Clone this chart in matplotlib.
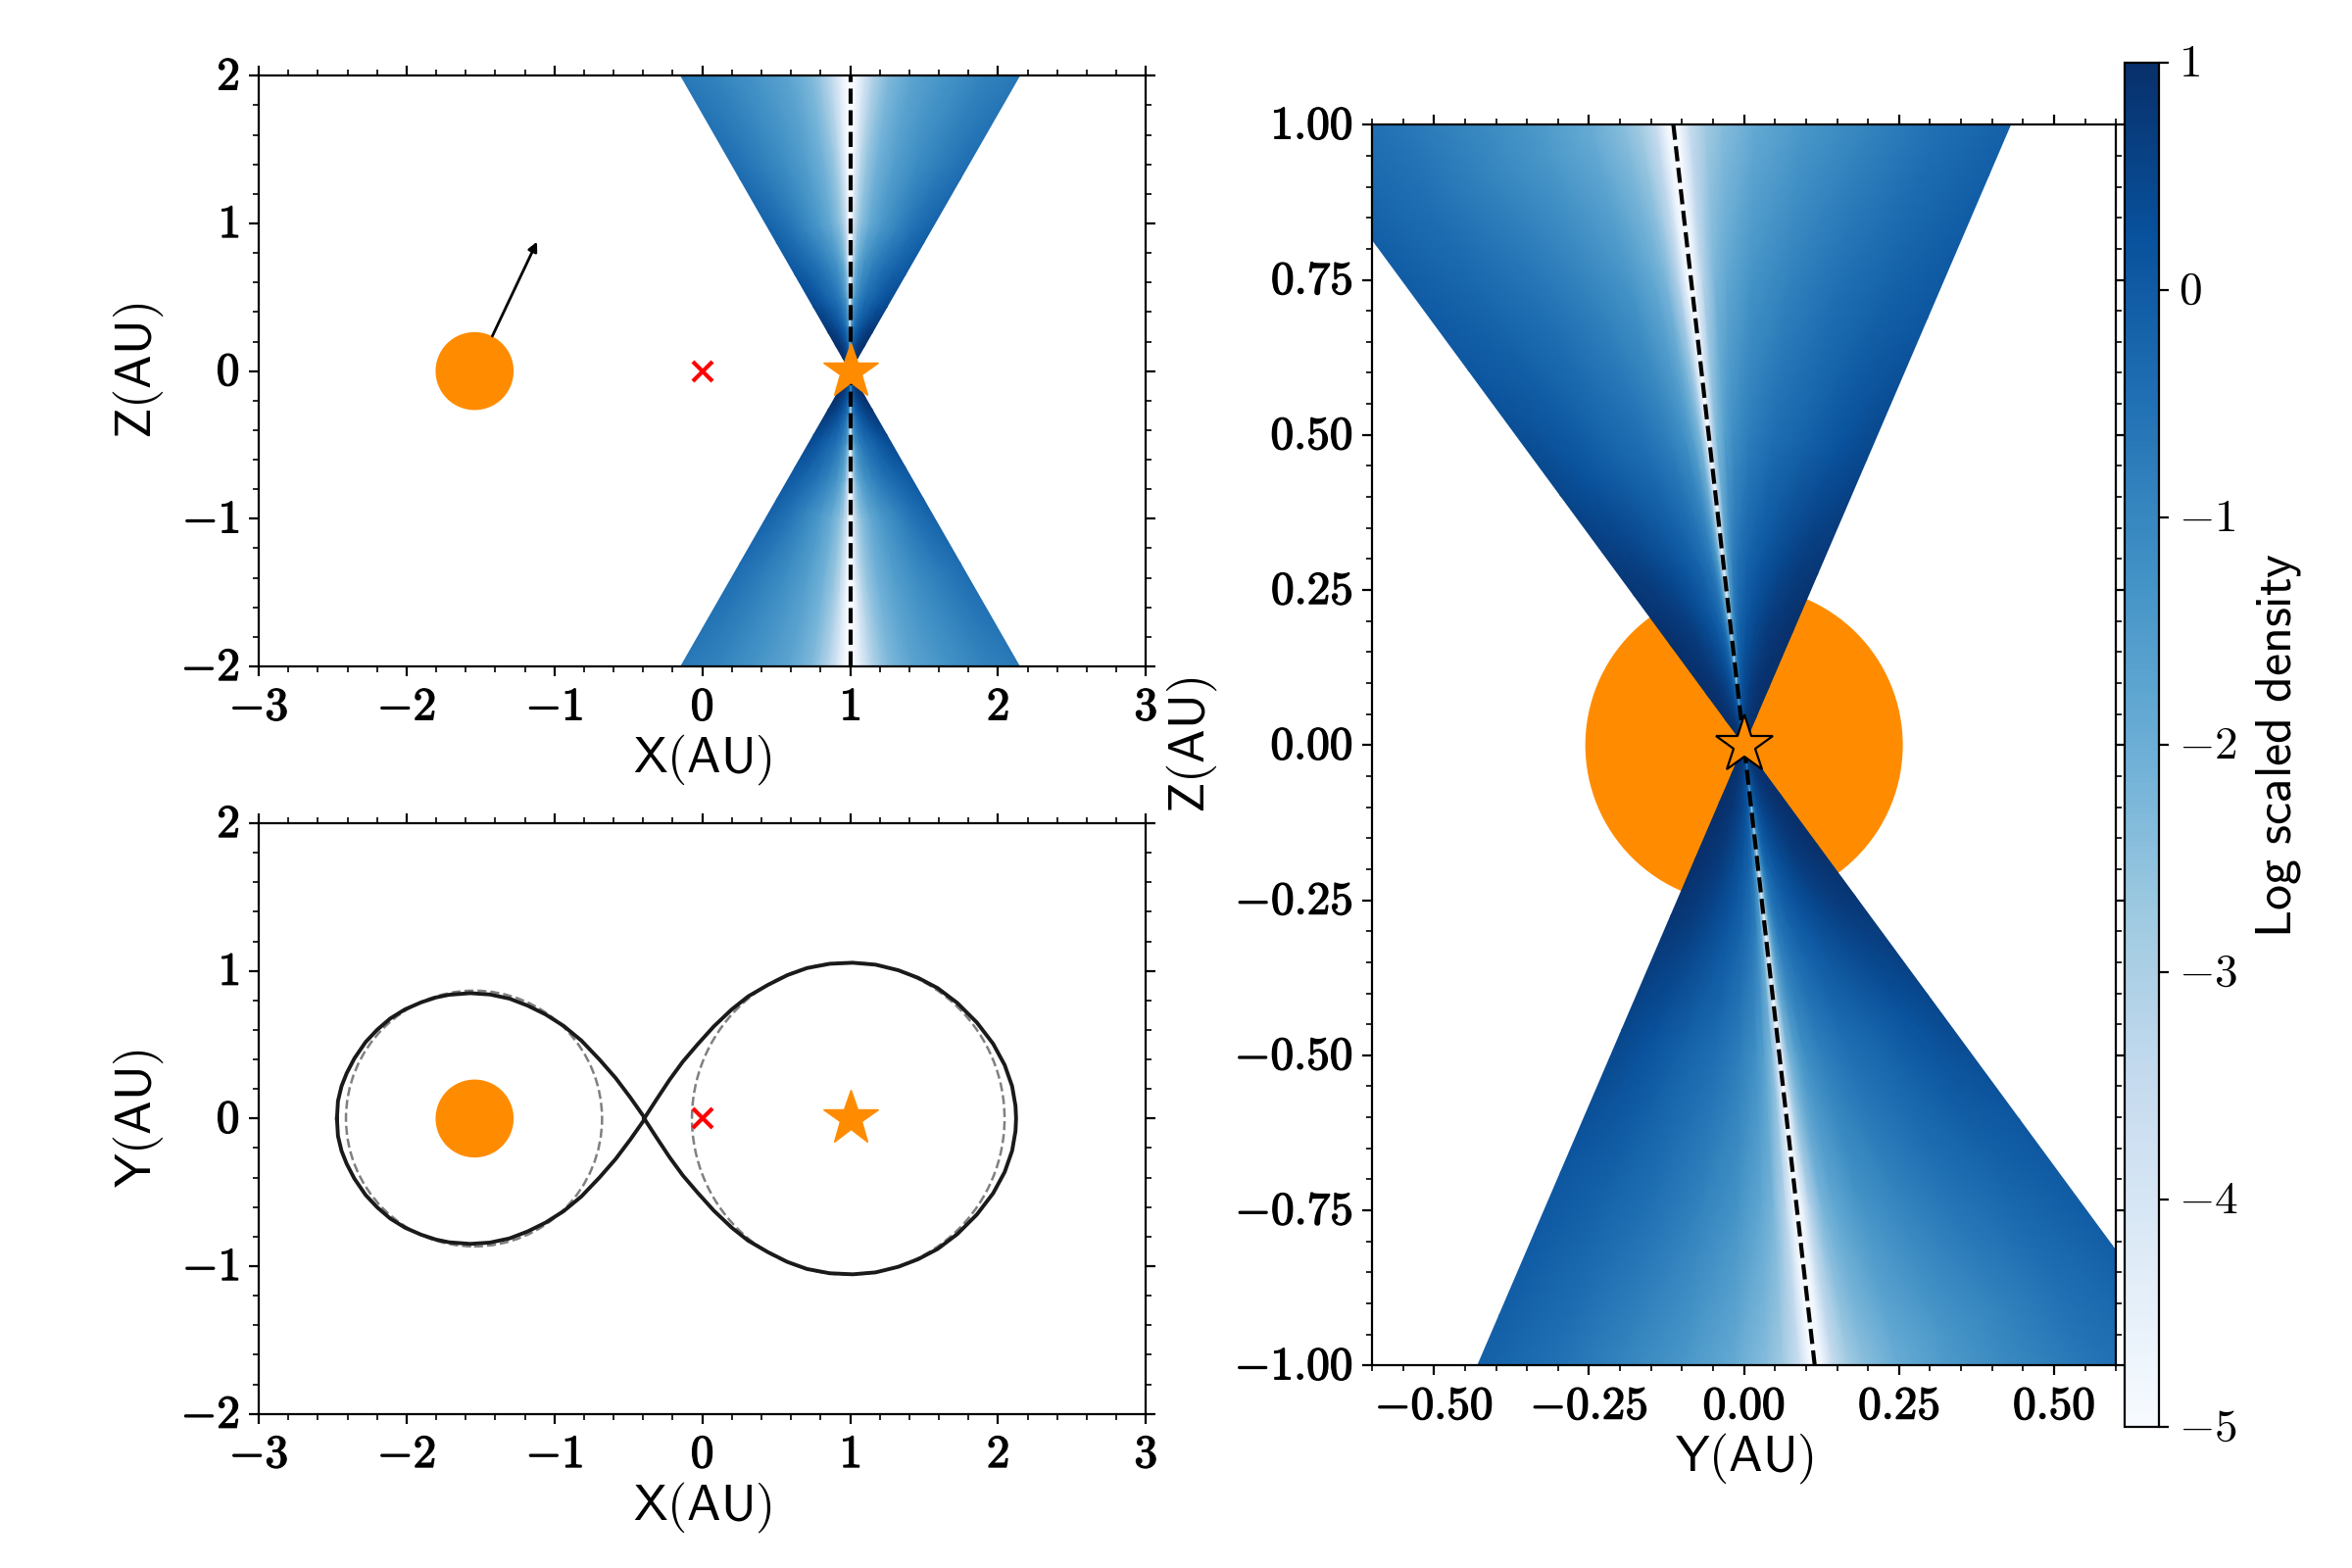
import numpy as np
import matplotlib
matplotlib.use("Agg")
import matplotlib.pyplot as plt
import matplotlib.patheffects as pe
from matplotlib.patches import Circle
from matplotlib.ticker import FuncFormatter, MultipleLocator
from matplotlib.transforms import ScaledTranslation

plt.rcParams['mathtext.fontset'] = 'cm'

W = 2400.0
H = 1600.0

# wind cone: log density, rows = radius, columns = fraction of half opening
cone_r = [0.01, 0.05, 0.1, 0.2, 0.3, 0.5, 0.75, 1.0, 1.5, 2.4]
cone_u = [0, 0.02, 0.05, 0.1, 0.15, 0.25, 0.4, 0.6, 0.8, 1.0]
cone_logrho = [
    [-0.5, -0.2, 0.0, 0.3, 0.5, 0.7, 0.8, 0.9, 0.95, 0.95],
    [-1.5, -0.8, -0.3, 0.1, 0.3, 0.5, 0.7, 0.85, 0.95, 1.0],
    [-2.5, -1.3, -0.5, 0.0, 0.2, 0.45, 0.65, 0.85, 0.95, 1.0],
    [-4.0, -2.4, -1.2, -0.5, -0.2, 0.1, 0.4, 0.7, 0.88, 1.0],
    [-4.6, -3.0, -1.6, -0.85, -0.55, -0.2, 0.1, 0.45, 0.7, 0.85],
    [-5.0, -3.6, -2.3, -1.6, -1.2, -0.8, -0.45, -0.15, 0.2, 0.5],
    [-5.0, -4.6, -3.2, -2.2, -1.8, -1.3, -0.9, -0.5, -0.15, 0.1],
    [-5.0, -4.8, -3.6, -2.8, -2.4, -1.9, -1.4, -0.9, -0.45, -0.1],
    [-5.0, -5.0, -4.4, -3.3, -2.7, -2.1, -1.6, -1.15, -0.75, -0.4],
    [-5.0, -5.0, -4.8, -4.2, -3.4, -2.4, -1.8, -1.4, -1.0, -0.7],
]
half_open_deg = 29.8
tilt_xz_deg = 0.0
tilt_yz_deg = -6.55

# positions in AU
star_x = 1.0
comp_x = -1.54
comp_r = 0.264
com_x = 0.0
arrow_start = (-1.42, 0.237)
arrow_end = (-1.118, 0.876)
axis_xz_x = [1.0, 1.0]
axis_xz_z = [-2.0, 2.0]
axis_yz_y = [-0.114, 0.114]
axis_yz_z = [1.0, -1.0]
comp_r_yz = 0.256

# roche lobes, upper half, lower half is the mirror
lobe1_x = [-2.471, -2.464, -2.440, -2.405, -2.353, -2.277, -2.199, -2.111, -2.011, -1.901, -1.801, -1.713,
           -1.569, -1.436, -1.304, -1.182, -1.060, -0.939, -0.818, -0.696, -0.586, -0.486, -0.387]
lobe1_y = [0.0, 0.119, 0.219, 0.307, 0.407, 0.518, 0.601, 0.677, 0.739, 0.787, 0.820, 0.838,
           0.849, 0.840, 0.812, 0.765, 0.705, 0.628, 0.528, 0.400, 0.274, 0.141, 0.0]
lobe2_x = [-0.393, -0.309, -0.221, -0.132, -0.032, 0.078, 0.199, 0.310, 0.442, 0.575, 0.708, 0.862,
           1.017, 1.172, 1.326, 1.459, 1.592, 1.724, 1.857, 1.967, 2.045, 2.095, 2.118, 2.122]
lobe2_y = [0.0, 0.130, 0.263, 0.385, 0.502, 0.624, 0.739, 0.827, 0.904, 0.971, 1.019, 1.048,
           1.055, 1.042, 1.004, 0.953, 0.883, 0.783, 0.650, 0.506, 0.362, 0.219, 0.086, 0.0]
circ1_x = -1.544
circ1_r = 0.866
circ2_x = 0.987
circ2_r = 1.057

cbar_ticks = [-5, -4, -3, -2, -1, 0, 1]
orange = 'darkorange'
label_size = 18.7


def px_axes(fig, left, top, right, bottom):
    return fig.add_axes([left / W, 1 - bottom / H, (right - left) / W, (bottom - top) / H])


def draw_cone(ax, cx, tilt_deg):
    u = np.array(cone_u)
    u = np.concatenate((-u[:0:-1], u))
    vals = np.array(cone_logrho)
    vals = np.hstack((vals[:, :0:-1], vals))
    theta = np.radians(tilt_deg + u * half_open_deg)
    r = np.array(cone_r)
    rr, tt = np.meshgrid(r, theta, indexing='ij')
    m = None
    for sign in [1, -1]:
        m = ax.pcolormesh(cx + sign * rr * np.sin(tt), sign * rr * np.cos(tt), vals,
                          shading='gouraud', cmap='Blues', vmin=-5, vmax=1, zorder=2)
    return m


def style(ax, xmaj, xmin, ymaj, ymin, fmtx, fmty):
    ax.xaxis.set_major_locator(MultipleLocator(xmaj))
    ax.xaxis.set_minor_locator(MultipleLocator(xmin))
    ax.yaxis.set_major_locator(MultipleLocator(ymaj))
    ax.yaxis.set_minor_locator(MultipleLocator(ymin))
    ax.xaxis.set_major_formatter(FuncFormatter(lambda v, p: '$\\mathbf{' + fmtx % v + '}$'))
    ax.yaxis.set_major_formatter(FuncFormatter(lambda v, p: '$\\mathbf{' + fmty % v + '}$'))
    ax.tick_params(which='both', top=True, right=True, direction='out')
    ax.tick_params(which='major', labelsize=17)
    # the bold digits are heavier in the original
    for t in ax.get_xticklabels() + ax.get_yticklabels():
        t.set_path_effects([pe.withStroke(linewidth=0.5, foreground='k')])
    nudge_up(ax)


def nudge_up(ax):
    off = ScaledTranslation(0, 1.2 / 72, fig.dpi_scale_trans)
    for t in ax.get_yticklabels():
        t.set_transform(t.get_transform() + off)


fig = plt.figure(figsize=(12, 8), dpi=200)

ax1 = px_axes(fig, 264, 77.3, 1169.3, 680)
ax2 = px_axes(fig, 264, 840, 1169.3, 1442.7)
ax3 = px_axes(fig, 1400, 127.3, 2159.3, 1393.3)
cax = px_axes(fig, 2168.3, 64, 2203.3, 1456)

# x-z view
draw_cone(ax1, star_x, tilt_xz_deg)
ax1.plot(axis_xz_x, axis_xz_z, color='k', ls='--', lw=1.5, zorder=3)
ax1.add_patch(Circle((comp_x, 0), comp_r, color=orange, lw=0, zorder=1))
ax1.plot([star_x], [0], marker='*', ms=21, color=orange, mec=orange, mew=0.5, ls='', zorder=4)
ax1.plot([com_x], [0], marker='x', ms=7.2, color='red', mew=1.5, ls='', zorder=4)
ax1.annotate('', xy=arrow_end, xytext=arrow_start,
             arrowprops=dict(arrowstyle='-|>', color='k', lw=1.0, shrinkA=0, shrinkB=0, mutation_scale=7))
ax1.set_xlim(-3, 3)
ax1.set_ylim(-2, 2)
style(ax1, 1, 0.2, 1, 0.2, '%d', '%d')
ax1.set_xlabel('$\\mathsf{X(AU)}$', fontsize=label_size, labelpad=1)
ax1.set_ylabel('$\\mathsf{Z(AU)}$', fontsize=label_size)
ax1.yaxis.set_label_coords(-0.105, 0.5)

# x-y view
lx1 = np.array(lobe1_x)
ly1 = np.array(lobe1_y)
lx2 = np.array(lobe2_x)
ly2 = np.array(lobe2_y)
ax2.plot(np.concatenate((lx1, lx1[::-1])), np.concatenate((ly1, -ly1[::-1])), color='#1a1a1a', lw=1.4, zorder=3)
ax2.plot(np.concatenate((lx2, lx2[::-1])), np.concatenate((ly2, -ly2[::-1])), color='#1a1a1a', lw=1.4, zorder=3)
ax2.add_patch(Circle((circ1_x, 0), circ1_r, fill=False, ec='gray', ls='--', lw=0.9, zorder=2))
ax2.add_patch(Circle((circ2_x, 0), circ2_r, fill=False, ec='gray', ls='--', lw=0.9, zorder=2))
ax2.add_patch(Circle((comp_x, 0), comp_r, color=orange, lw=0, zorder=1))
ax2.plot([star_x], [0], marker='*', ms=21, color=orange, mec=orange, mew=0.5, ls='', zorder=4)
ax2.plot([com_x], [0], marker='x', ms=7.2, color='red', mew=1.5, ls='', zorder=4)
ax2.set_xlim(-3, 3)
ax2.set_ylim(-2, 2)
style(ax2, 1, 0.2, 1, 0.2, '%d', '%d')
ax2.set_xlabel('$\\mathsf{X(AU)}$', fontsize=label_size, labelpad=1)
ax2.set_ylabel('$\\mathsf{Y(AU)}$', fontsize=label_size)
ax2.yaxis.set_label_coords(-0.105, 0.5)

# y-z view
mesh = draw_cone(ax3, 0.0, tilt_yz_deg)
ax3.add_patch(Circle((0, 0), comp_r_yz, color=orange, lw=0, zorder=1))
ax3.plot(axis_yz_y, axis_yz_z, color='k', ls='--', lw=1.5, zorder=3)
ax3.plot([0], [0], marker='*', ms=22, mfc=orange, mec='k', mew=0.8, ls='', zorder=4)
ax3.set_xlim(-0.6, 0.6)
ax3.set_ylim(-1, 1)
style(ax3, 0.25, 0.05, 0.25, 0.05, '%.2f', '%.2f')
ax3.set_xlabel('$\\mathsf{Y(AU)}$', fontsize=label_size, labelpad=1)
ax3.set_ylabel('$\\mathsf{Z(AU)}$', fontsize=label_size)
ax3.yaxis.set_label_coords(-0.2054, 0.5)

cb = fig.colorbar(mesh, cax=cax)
cb.set_ticks(cbar_ticks)
cb.set_ticklabels(['$%d$' % t for t in cbar_ticks])
cb.ax.tick_params(labelsize=17)
cb.set_label('$\\mathsf{Log\\ scaled\\ density}$', fontsize=label_size, labelpad=6)
off = ScaledTranslation(0, 1.2 / 72, fig.dpi_scale_trans)
for t in cb.ax.get_yticklabels():
    t.set_transform(t.get_transform() + off)

fig.savefig('out.png', dpi=200)
